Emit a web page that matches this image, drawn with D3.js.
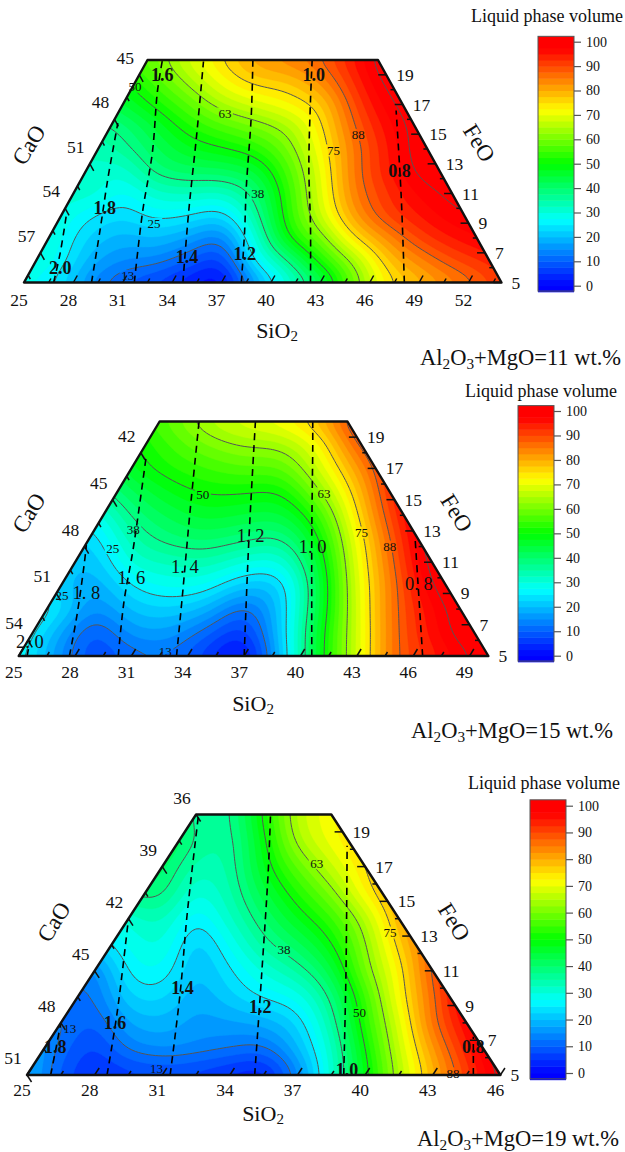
<!DOCTYPE html>
<html>
<head>
<meta charset="utf-8">
<script src="https://cdn.jsdelivr.net/npm/d3@7"></script>
<style>
  html, body { margin: 0; background: #fff; }
  svg { display: block; }
  text { font-family: "Liberation Serif", serif; fill: #111; }
</style>
</head>
<body>
<div id="chart"></div>
<script>
const width = 625;
const height = 1152;

// FeO rows shared by all three plots, bottom to top
const feoRows = [5, 6.5, 8, 9.5, 11, 12.5, 14, 15.5, 17, 18.5, 20];
const feoTicks = [5, 7, 9, 11, 13, 15, 17, 19];

// grid columns are read straight up from the SiO2 axis, so they go past the right edge
const columns11 = [25, 27, 29, 31, 33, 35, 37, 39, 41, 43, 45, 47, 49, 51, 53, 55];
const liquid11 = [
  [28, 24.5, 15, 10, 7, 3, 1, 16.5, 30, 42.5, 59, 73, 79, 84, 89, 94],
  [30, 27.5, 19, 15, 14, 10, 7, 25.5, 37.5, 52, 64, 77, 84, 89.5, 93, 96],
  [30, 28.5, 22, 19, 20, 17, 14, 30, 49, 60, 74, 83, 90.5, 95, 98, 100],
  [32, 30, 25.5, 23, 26, 25, 23, 35, 52.5, 67, 81, 90, 95, 99, 100.5, 101],
  [33, 31.5, 31, 27, 31.5, 32.7, 32, 39, 53.5, 69, 84, 92, 98, 101, 102, 102],
  [33, 32.5, 32, 31, 38.5, 41, 41.5, 45, 56, 70, 85, 94, 101, 102, 102, 102],
  [33, 33, 33, 36, 42, 47, 49.5, 52.7, 60, 72, 85, 94.5, 102, 102, 102, 102],
  [33, 34, 35.5, 39, 45.5, 52, 56.4, 60, 64.5, 74, 87, 96, 102, 102, 102, 102],
  [33, 36, 40, 45, 51, 57.5, 64.5, 68.5, 72, 77, 89.5, 98.5, 103, 103, 103, 103],
  [34, 38, 44, 49, 56, 63.5, 71, 76, 77.5, 83, 92.5, 101, 104, 104, 104, 104],
  [36, 42, 48, 54, 60, 68, 75, 81, 84, 87.5, 95, 103, 105, 105, 105, 105]
];
const sio2Ticks11 = [25, 28, 31, 34, 37, 40, 43, 46, 49, 52];
const caoTicks11 = [45, 48, 51, 54, 57];
const viscosity11 = [
  {name: "2.0", pts: [[26.8, 5], [27.2, 7], [27.6, 9.75]], at: [27.2, 6]},
  {name: "1.8", pts: [[29.1, 5], [29.6, 8.4], [30.1, 12.05], [30.7, 15.75]], at: [29.9, 10]},
  {name: "1.6", pts: [[31.7, 5], [32.2, 9.75], [32.8, 13.8], [33.1, 17.85], [33.4, 19.95]], at: [33.4, 19]},
  {name: "1.4", pts: [[34.65, 5], [35, 9.75], [35.5, 15.1], [35.9, 19.9]], at: [34.9, 6.75]},
  {name: "1.2", pts: [[38.2, 5], [38.4, 8.5], [38.5, 11.4], [38.8, 16.2], [38.9, 20]], at: [38.4, 6.95]},
  {name: "1.0", pts: [[42.4, 5], [42.4, 8.75], [42.3, 12.8], [42.4, 17.3], [42.5, 20]], at: [42.6, 19]},
  {name: "0.8", pts: [[48.1, 5], [47.9, 11], [47.6, 16.6]], at: [47.8, 12.5]}
];
const isoLabels11 = [["50", 31.74, 18.2], ["63", 37.2, 16.4], ["75", 43.8, 13.9], ["88", 45.3, 14.95],
  ["38", 39.2, 11], ["25", 32.9, 8.95], ["13", 31.3, 5.45]];

const columns15 = [25, 27, 29, 31, 33, 35, 37, 39, 41, 43, 45, 47, 49, 51];
const liquid15 = [
  [27, 16, 8, 11, 12, 6, 1, 21, 47.5, 68, 86.5, 94, 100, 104],
  [29, 19, 9.5, 16, 16.5, 11, 6, 22, 47, 68, 86.4, 96, 103, 104],
  [30, 24.5, 15, 20.5, 22, 19, 11.5, 22, 45, 68.2, 86.5, 97, 104, 105],
  [26, 22, 18, 25, 28, 27, 21, 23, 44.5, 68.7, 86.5, 100, 105, 105],
  [23, 22, 20.6, 30.5, 33, 34, 30, 30, 46.4, 69.8, 87.8, 102, 105, 105],
  [22, 22, 23.5, 34, 39, 40.5, 38.5, 37.5, 50, 71.5, 89.5, 103, 105, 105],
  [25, 26, 28, 38, 43, 46, 44.7, 44.5, 55, 74.5, 92, 103, 105, 105],
  [28, 30, 35, 42, 47.5, 50.5, 50.5, 50.5, 62, 77.5, 94, 103, 105, 105],
  [30, 33, 38, 47, 52, 55, 57, 57.5, 68, 81.7, 95, 103, 105, 105],
  [32, 36, 42, 49, 55, 60, 63, 64, 72, 87.5, 96, 103, 105, 105],
  [34, 40, 45, 52, 58, 65, 69, 72, 78.5, 92, 97, 103, 105, 105]
];
const sio2Ticks15 = [25, 28, 31, 34, 37, 40, 43, 46, 49];
const caoTicks15 = [42, 45, 48, 51, 54];
const viscosity15 = [
  {name: "2. 0", pts: [[25.45, 5], [25.6, 6]], at: [25.6, 5.9]},
  {name: "1. 8", pts: [[27.7, 5], [28.1, 7.6], [28.5, 11], [28.6, 12.1]], at: [28.6, 9]},
  {name: "1. 6", pts: [[30.3, 5], [30.6, 8.45], [31.1, 11.9], [31.8, 17.9]], at: [31, 10]},
  {name: "1. 4", pts: [[33.4, 5], [33.7, 8.7], [34.1, 14], [34.6, 20]], at: [33.85, 10.7]},
  {name: "1. 2", pts: [[37, 5], [37.25, 12.4], [37.6, 20]], at: [37.35, 12.65]},
  {name: "1. 0", pts: [[40.6, 5], [40.6, 12.9], [40.65, 18.3], [40.65, 20]], at: [40.65, 11.95]},
  {name: "0. 8", pts: [[46.5, 5], [46.25, 9.7], [46.1, 12.5]], at: [46.3, 9.6]}
];
const isoLabels15 = [["63", 41.25, 15.4], ["50", 34.8, 15.3], ["38", 31.1, 13.1], ["25", 30, 11.9],
  ["25", 27.3, 8.9], ["75", 43.25, 12.9], ["88", 44.75, 12], ["13", 32.8, 5.3]];

const columns19 = [25, 26.5, 28, 29.5, 31, 32.5, 34, 35.5, 37, 38.5, 40, 41.5, 43, 44.5, 46, 47.5];
const liquid19 = [
  [19, 9, 5, 6, 7, 6, 4, 3, 14, 31, 48, 65, 79, 91, 101, 106],
  [19, 11.5, 7, 13, 15, 14, 12.5, 11.7, 19.5, 32, 50, 67, 82, 94, 104, 106],
  [15, 13, 10, 17.5, 19, 16.5, 17, 18.4, 23, 35, 53, 69, 86, 97, 106, 106],
  [14, 12, 12.5, 22, 23, 18.5, 21.7, 25.5, 28.5, 38.5, 55, 72, 86.5, 100, 106, 106],
  [16, 15, 14.5, 25.5, 27, 20, 24.5, 30.5, 35.5, 44, 60, 73, 88.5, 100, 106, 106],
  [20, 19, 22, 28, 30, 21.5, 28, 36, 41.5, 49.5, 62, 76.5, 88, 100, 106, 106],
  [22, 24, 27, 31, 33, 25.5, 32, 40, 47.5, 54.5, 65.5, 79.5, 90, 100, 106, 106],
  [28, 30, 33, 38, 38.5, 30, 34.5, 44, 52.5, 61, 72.5, 82, 92, 100, 106, 106],
  [30, 33, 37, 41, 41, 34, 35.5, 47.5, 58, 67, 75, 84, 93, 100, 106, 106],
  [33, 36, 40, 43, 44, 37, 36, 49, 64, 71, 77, 85, 93, 100, 106, 106],
  [35, 38, 42, 45, 46, 36, 37, 51, 66, 72, 78, 86, 94, 100, 106, 106]
];
const sio2Ticks19 = [25, 28, 31, 34, 37, 40, 43, 46];
const caoTicks19 = [36, 39, 42, 45, 48, 51];
const viscosity19 = [
  {name: "1.8", pts: [[26.05, 5], [26.25, 6.3], [26.5, 8]], at: [26.25, 6.6]},
  {name: "1.6", pts: [[28.55, 5], [29, 8.6], [29.5, 14]], at: [28.9, 8]},
  {name: "1.4", pts: [[31.35, 5], [31.8, 9.8], [32.1, 14.2], [32.6, 19.9]], at: [31.9, 10]},
  {name: "1.2", pts: [[35.1, 5], [35.4, 10.6], [35.7, 16.7], [35.8, 19.9]], at: [35.35, 8.9]},
  {name: "1.0", pts: [[39.05, 5], [39.15, 10.9], [39.2, 18.2]], at: [39.2, 5.3]},
  {name: "0.8", pts: [[44.8, 5], [44.8, 7.2]], at: [44.8, 6.6]}
];
const isoLabels19 = [["63", 37.85, 17.2], ["38", 36.4, 12.2], ["50", 39.75, 8.6], ["75", 41.1, 13.2],
  ["88", 43.9, 5.1], ["13", 30.75, 5.4], ["13", 26.9, 7.7]];

const colorStops = [0, 27, 50, 72, 97];
const colorRamp = ["#0000ff", "#00ffff", "#00ff00", "#ffff00", "#ff0000"];
const barTicks = [0, 10, 20, 30, 40, 50, 60, 70, 80, 90, 100];
const bandLevels = d3.range(-2.5, 105, 2.5);
const isoLevels = [12.5, 25, 37.5, 50, 62.5, 75, 87.5, 100];

const color = d3.scaleLinear().domain(colorStops).range(colorRamp).clamp(true);

const svg = d3.select("#chart").append("svg").attr("width", width).attr("height", height);

// catmull-rom resample so the bands come out round like the original
const cubic = (a, b, c, d, t) =>
  b + 0.5*t*(c-a + t*(2*a-5*b+4*c-d + t*(3*(b-c)+d-a)));

function resample(grid, factor){
  const rows = grid.length, cols = grid[0].length;
  const nx = (cols-1)*factor+1, ny = (rows-1)*factor+1;
  const at = (r, c) => grid[Math.max(0, Math.min(rows-1, r))][Math.max(0, Math.min(cols-1, c))];
  const out = new Float64Array(nx*ny);
  for(let j=0; j<ny; j++){
    const r = Math.floor(j/factor), tr = j/factor-r;
    for(let i=0; i<nx; i++){
      const c = Math.floor(i/factor), tc = i/factor-c;
      const row = k => cubic(at(r+k, c-1), at(r+k, c), at(r+k, c+1), at(r+k, c+2), tc);
      out[j*nx+i] = cubic(row(-1), row(0), row(1), row(2), tr);
    }
  }
  // a light blur takes the kinks out of the lines
  d3.blur2({data: out, width: nx}, 2.5, 3);
  return {values: out, nx, ny};
}

function subText(sel, parts){
  const size = +sel.attr("font-size");
  parts.forEach(([s, sub], i) => {
    const prev = i>0 && parts[i-1][1];
    const t = sel.append("tspan").text(s);
    if(sub) t.attr("dy", size*0.28).attr("font-size", size*0.68);
    else if(prev) t.attr("dy", -size*0.28);
  });
}

function drawPanel(p){
  const g = svg.append("g");
  const x = d3.scaleLinear().domain([25, p.uMax]).range([p.left, p.right]);
  const y = d3.scaleLinear().domain([5, 20]).range([p.base, p.top]);
  const leftU = f => 25+(f-5)/2;
  const rightU = f => p.uMax-(f-5)/2;

  const factor = 10;
  const {values, nx, ny} = resample(p.grid, factor);
  const gx = d3.scaleLinear().domain([0, p.columns.length-1]).range([p.columns[0], p.columns[p.columns.length-1]]);
  const gy = d3.scaleLinear().domain([0, feoRows.length-1]).range([feoRows[0], feoRows[feoRows.length-1]]);
  const project = d3.geoTransform({
    point(cx, cy){
      this.stream.point(x(gx((cx-0.5)/factor)), y(gy((cy-0.5)/factor)));
    }
  });
  const path = d3.geoPath(project);
  const contours = d3.contours().size([nx, ny]);

  const clipId = "clip"+p.id;
  const outline = [[leftU(5), 5], [rightU(5), 5], [rightU(20), 20], [leftU(20), 20]]
    .map(([u, f]) => [x(u), y(f)]);
  g.append("clipPath").attr("id", clipId).append("polygon").attr("points", outline.join(" "));

  const plot = g.append("g").attr("clip-path", `url(#${clipId})`);
  plot.selectAll("path.band")
    .data(contours.thresholds(bandLevels)(values))
    .join("path")
    .attr("class", "band")
    .attr("d", path)
    .attr("fill", d => color(d.value+1.25))
    .attr("stroke", d => color(d.value+1.25))
    .attr("stroke-width", 0.4);

  // iso lines break where their label sits
  const maskId = "mask"+p.id;
  const mask = g.append("mask").attr("id", maskId).attr("maskUnits", "userSpaceOnUse")
    .attr("x", 0).attr("y", 0).attr("width", width).attr("height", height);
  mask.append("rect").attr("width", width).attr("height", height).attr("fill", "#fff");
  mask.selectAll("rect.gap").data(p.isoLabels).join("rect").attr("class", "gap")
    .attr("x", d => x(d[1])-8).attr("y", d => y(d[2])-6).attr("width", 16).attr("height", 12).attr("fill", "#000");

  plot.append("g").attr("mask", `url(#${maskId})`)
    .selectAll("path")
    .data(contours.thresholds(isoLevels)(values))
    .join("path")
    .attr("d", path)
    .attr("fill", "none")
    .attr("stroke", "#555")
    .attr("stroke-width", 1);

  // SiO2 ticks lean with the left edge, CaO ticks with the right edge
  const unit = x(26)-x(25), rise = (p.base-p.top)/15;
  const dxPerPx = unit/2/rise;
  const ticks = g.append("g").attr("stroke", "#111").attr("fill", "none");
  const tickLine = (x1, y1, x2, y2, w) => ticks.append("line")
    .attr("x1", x1).attr("y1", y1).attr("x2", x2).attr("y2", y2).attr("stroke-width", w);

  d3.range(25, p.uMax+0.01, 1.5).forEach((s, i) => {
    const h = i%2===0 ? 7 : 4;
    tickLine(x(s), p.base, x(s)+h*dxPerPx, p.base-h, 1.5);
  });
  p.sio2Ticks.forEach(s => {
    g.append("text").attr("x", x(s)-5).attr("y", p.base+p.sio2Dy)
      .attr("text-anchor", "middle").attr("dominant-baseline", "central")
      .attr("font-size", 17.5).text(s);
  });

  d3.range(p.caoTop, p.sum-30+0.01, 1.5).forEach(c => {
    const f = p.sum-25-c;
    if(f<5) return;
    const major = (c-p.caoTicks[0])%3===0;
    const h = major ? 7 : 4;
    tickLine(x(leftU(f)), y(f), x(leftU(f))+h*dxPerPx, y(f)+h, 1.5);
  });
  p.caoTicks.forEach(c => {
    const f = p.sum-25-c;
    g.append("text").attr("x", x(leftU(f))-14).attr("y", y(f)-17)
      .attr("text-anchor", "middle").attr("dominant-baseline", "central")
      .attr("font-size", 17.5).text(c);
  });

  d3.range(5, 20, 1).forEach(f => {
    const major = f%2===1;
    tickLine(x(rightU(f)), y(f), x(rightU(f))-(major ? 8 : 4), y(f), 1.5);
  });
  feoTicks.forEach(f => {
    g.append("text").attr("x", x(rightU(f))+10).attr("y", y(f))
      .attr("dominant-baseline", "central")
      .attr("font-size", 17.5).text(f);
  });

  // viscosity lines
  const line = d3.line().x(d => x(d[0])).y(d => y(d[1])).curve(d3.curveCatmullRom);
  g.append("g").selectAll("path").data(p.viscosity).join("path")
    .attr("d", d => line(d.pts))
    .attr("fill", "none")
    .attr("stroke", "#000")
    .attr("stroke-width", 1.6)
    .attr("stroke-dasharray", "7 5");

  g.append("polygon").attr("points", outline.join(" "))
    .attr("fill", "none").attr("stroke", "#111").attr("stroke-width", 2.4).attr("stroke-linejoin", "round");

  g.append("g").selectAll("text").data(p.isoLabels).join("text")
    .attr("x", d => x(d[1])).attr("y", d => y(d[2]))
    .attr("text-anchor", "middle").attr("dominant-baseline", "central")
    .attr("font-size", 13).attr("fill", "#222")
    .text(d => d[0]);

  g.append("g").selectAll("text").data(p.viscosity).join("text")
    .attr("x", d => x(d.at[0])).attr("y", d => y(d.at[1]))
    .attr("text-anchor", "middle").attr("dominant-baseline", "central")
    .attr("font-size", p.plainLabels ? 18.5 : 18)
    .attr("font-weight", p.plainLabels ? "normal" : "bold")
    .text(d => d.name);

  // axis names
  const sio = g.append("text").attr("x", p.sioAt[0]).attr("y", p.sioAt[1])
    .attr("text-anchor", "middle").attr("dominant-baseline", "central").attr("font-size", 22);
  subText(sio, [["SiO", false], ["2", true]]);
  g.append("text").attr("transform", `translate(${p.caoAt}) rotate(-58)`)
    .attr("text-anchor", "middle").attr("dominant-baseline", "central").attr("font-size", 23).text("CaO");
  g.append("text").attr("transform", `translate(${p.feoAt}) rotate(58)`)
    .attr("text-anchor", "middle").attr("dominant-baseline", "central").attr("font-size", 23).text("FeO");

  const note = g.append("text").attr("x", p.noteAt[0]).attr("y", p.noteAt[1])
    .attr("dominant-baseline", "central").attr("font-size", 22.5);
  subText(note, [["Al", false], ["2", true], ["O", false], ["3", true], [`+MgO=${p.total} wt.%`, false]]);

  // colour bar
  const barY = d3.scaleLinear().domain([0, 100]).range([p.bar.y0, p.bar.y100]);
  const bar = g.append("g");
  bar.selectAll("rect").data(bandLevels).join("rect")
    .attr("x", p.bar.x).attr("width", 36)
    .attr("y", d => barY(Math.min(d+2.5, 102.2)))
    .attr("height", d => barY(d)-barY(Math.min(d+2.5, 102.2))+0.5)
    .attr("fill", d => color(d+1.25));
  bar.append("rect").attr("x", p.bar.x).attr("width", 36)
    .attr("y", barY(102.2)).attr("height", barY(-2.2)-barY(102.2))
    .attr("fill", "none").attr("stroke", "#555");
  const axis = d3.axisRight(barY).tickValues(barTicks).tickSize(7).tickPadding(5);
  const ax = bar.append("g").attr("transform", `translate(${p.bar.x+36},0)`).call(axis);
  ax.select(".domain").remove();
  ax.selectAll("line").attr("stroke", "#555").attr("stroke-width", 1.2);
  ax.selectAll("text").attr("font-size", 14).attr("font-family", '"Liberation Serif", serif').attr("fill", "#111");

  g.append("text").attr("x", p.titleAt[0]).attr("y", p.titleAt[1])
    .attr("text-anchor", "middle").attr("dominant-baseline", "central")
    .attr("font-size", 18).text("Liquid phase volume");
}

drawPanel({
  id: 11, total: 11, sum: 89, caoTop: 45, uMax: 54, left: 24, right: 501.5, base: 282.5, top: 60,
  columns: columns11, grid: liquid11, sio2Ticks: sio2Ticks11, caoTicks: caoTicks11,
  viscosity: viscosity11, isoLabels: isoLabels11, sio2Dy: 17,
  sioAt: [277, 330], caoAt: [29, 145], feoAt: [479, 143], noteAt: [420, 357],
  bar: {x: 538, y0: 285.7, y100: 41.7}, titleAt: [547, 16]
});
drawPanel({
  id: 15, total: 15, sum: 85, caoTop: 42, uMax: 50, left: 18.7, right: 488.4, base: 656, top: 421.5,
  columns: columns15, grid: liquid15, sio2Ticks: sio2Ticks15, caoTicks: caoTicks15,
  viscosity: viscosity15, isoLabels: isoLabels15, sio2Dy: 16, plainLabels: true,
  sioAt: [253, 703], caoAt: [29, 513], feoAt: [456.5, 513], noteAt: [411, 730],
  bar: {x: 518, y0: 655.7, y100: 411}, titleAt: [541, 391]
});
drawPanel({
  id: 19, total: 19, sum: 81, caoTop: 36, uMax: 46, left: 27, right: 500.4, base: 1075, top: 814.5,
  columns: columns19, grid: liquid19, sio2Ticks: sio2Ticks19, caoTicks: caoTicks19,
  viscosity: viscosity19, isoLabels: isoLabels19, sio2Dy: 15,
  sioAt: [263, 1113], caoAt: [54, 922], feoAt: [454, 922], noteAt: [417, 1138],
  bar: {x: 530, y0: 1073, y100: 805.7}, titleAt: [544, 783]
});
</script>
</body>
</html>
